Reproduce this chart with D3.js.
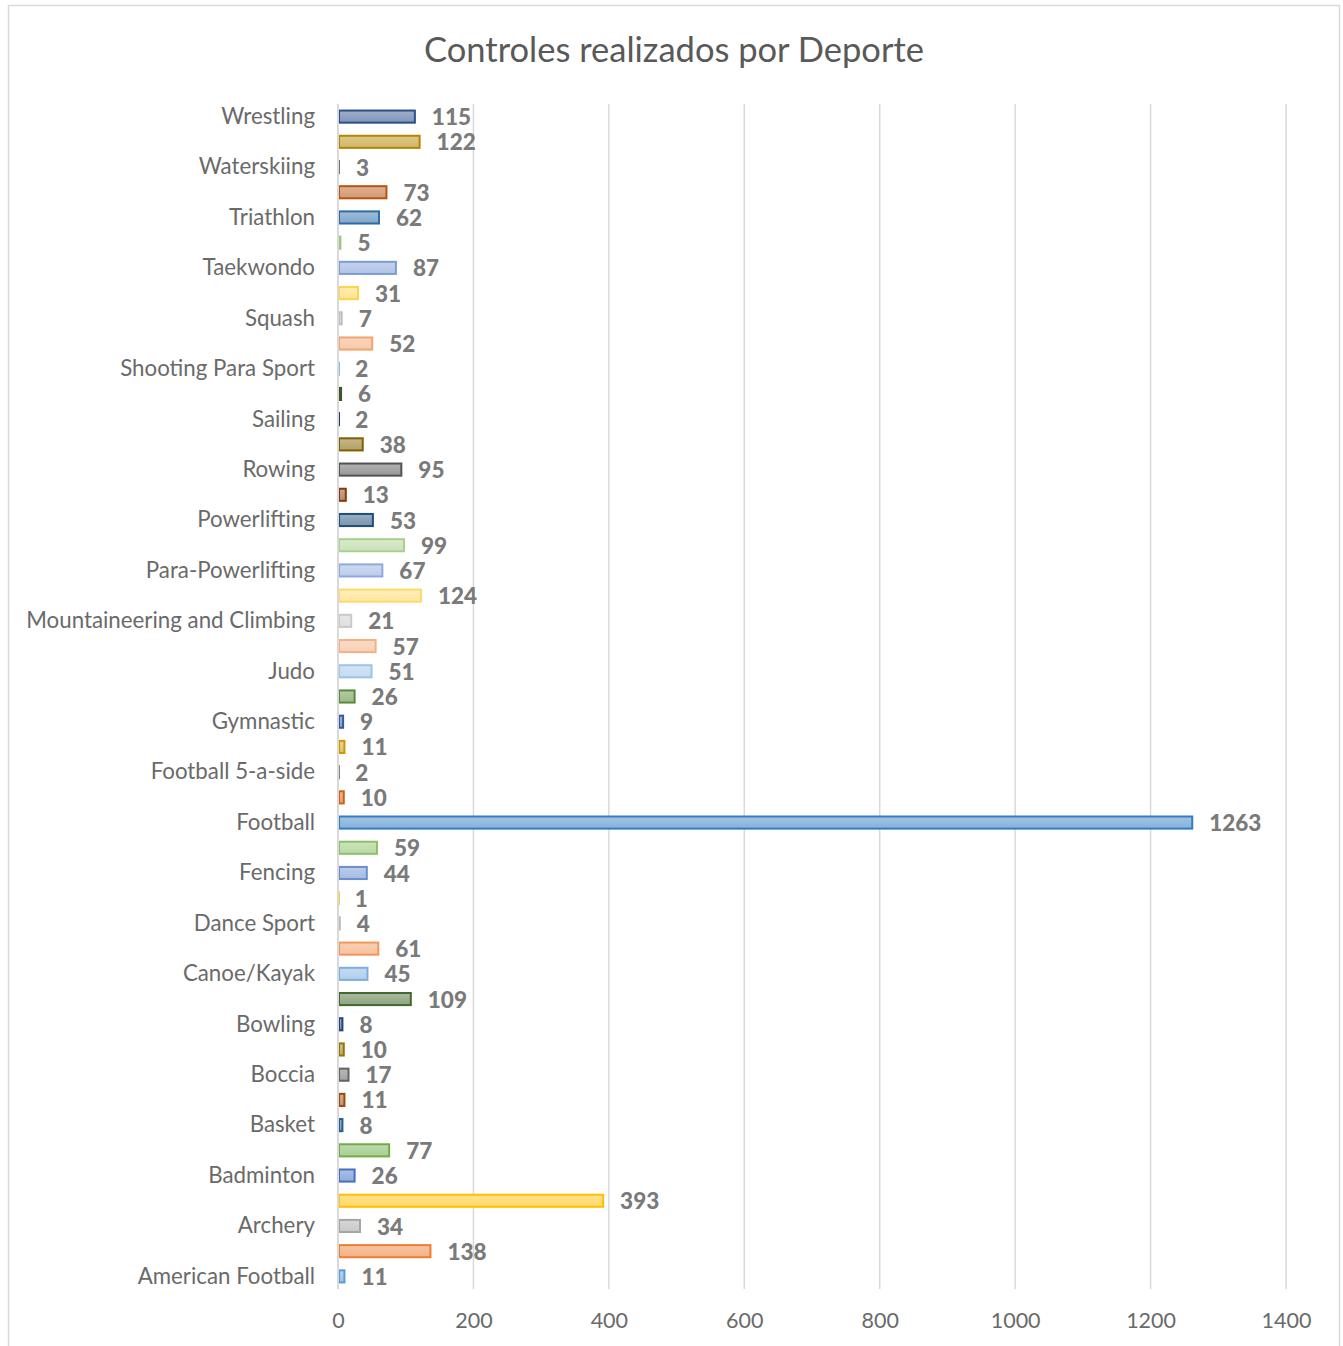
<!DOCTYPE html>
<html>
<head>
<meta charset="utf-8">
<script src="https://cdn.jsdelivr.net/npm/d3@7"></script>
<style>
  html, body { margin: 0; padding: 0; background: #ffffff; }
  svg { display: block; }
</style>
</head>
<body>
<svg id="chart" width="1343" height="1346"></svg>
<script>
// ---- Data (Excel category order: bottom to top) ----
const categories = [
  "American Football", "Aquatics", "Archery", "Athletics", "Badminton", "Baseball",
  "Basket", "Billiards", "Boccia", "Boules", "Bowling", "Boxing",
  "Canoe/Kayak", "Cycling", "Dance Sport", "Equestrian", "Fencing", "Field Hockey",
  "Football", "Futsal", "Football 5-a-side", "Golf", "Gymnastic", "Handball",
  "Judo", "Karate", "Mountaineering and Climbing", "Padel", "Para-Powerlifting", "Pelota",
  "Powerlifting", "Roller Sports", "Rowing", "Rugby", "Sailing", "Shooting",
  "Shooting Para Sport", "Skiing", "Squash", "Surfing", "Taekwondo", "Tennis",
  "Triathlon", "Volleyball", "Waterskiing", "Weightlifting", "Wrestling"
];
const values = [
  11, 138, 34, 393, 26, 77,
  8, 11, 17, 10, 8, 109,
  45, 61, 4, 1, 44, 59,
  1263, 10, 2, 11, 9, 26,
  51, 57, 21, 124, 67, 99,
  53, 13, 95, 38, 2, 6,
  2, 52, 7, 31, 87, 5,
  62, 73, 3, 122, 115
];
const xTicks = [0, 200, 400, 600, 800, 1000, 1200, 1400];
const title = "Controles realizados por Deporte";

// ---- Theme colours (Office palette with Excel's point variations) ----
const accents = ["#5B9BD5", "#ED7D31", "#A5A5A5", "#FFC000", "#4472C4", "#70AD47"];
const variations = [[1, 0], [0.6, 0], [0.8, 0.2], [0.8, 0], [0.6, 0.4], [0.5, 0], [0.7, 0.3], [0.7, 0]];
function pointColor(i) {
  const base = d3.hsl(accents[i % 6]);
  const v = variations[Math.floor(i / 6) % variations.length];
  base.l = base.l * v[0] + v[1];
  return base.formatHex();
}

const data = categories.map((c, i) => ({ cat: c, value: values[i], idx: i }));

const svg = d3.select("#chart");
const plotTop = 104, plotBottom = 1289;
const FONT = "Lato, 'Open Sans', sans-serif";

// chart border
svg.append("rect")
  .attr("x", 8.5).attr("y", 5.5)
  .attr("width", 1331).attr("height", 1350)
  .attr("fill", "#ffffff")
  .attr("stroke", "#D9D9D9").attr("stroke-width", 1.5);

// title
svg.append("text")
  .attr("x", 674).attr("y", 62)
  .attr("text-anchor", "middle")
  .attr("font-family", FONT)
  .attr("font-size", 34.5)
  .attr("fill", "#595959")
  .text(title);

const x = d3.scaleLinear().domain([0, 1400]).range([338, 1286]);
const y = d3.scaleBand()
  .domain(categories.slice().reverse())
  .range([plotTop, plotBottom])
  .paddingInner(0.44)
  .paddingOuter(0.22);

// gridlines
svg.append("g")
  .selectAll("line")
  .data(xTicks.filter(t => t > 0))
  .join("line")
  .attr("x1", d => x(d)).attr("x2", d => x(d))
  .attr("y1", plotTop).attr("y2", plotBottom)
  .attr("stroke", "#D9D9D9").attr("stroke-width", 1.5);

// gradients
const defs = svg.append("defs");
data.forEach(d => {
  const c = d3.color(pointColor(d.idx));
  const mix = (t) => d3.interpolateRgb(c, "#ffffff")(t);
  const g = defs.append("linearGradient")
    .attr("id", "grad" + d.idx)
    .attr("x1", 0).attr("y1", 0).attr("x2", 0).attr("y2", 1);
  g.append("stop").attr("offset", "0%").attr("stop-color", mix(0.55));
  g.append("stop").attr("offset", "100%").attr("stop-color", mix(0.4));
});

// bars
svg.append("g")
  .selectAll("rect")
  .data(data)
  .join("rect")
  .attr("x", x(0) + 1)
  .attr("y", d => y(d.cat) + 1)
  .attr("width", d => Math.max(0.01, x(d.value) - x(0) - 2))
  .attr("height", y.bandwidth() - 2)
  .attr("fill", d => `url(#grad${d.idx})`)
  .attr("stroke", d => pointColor(d.idx))
  .attr("stroke-width", 2);

// vertical axis line at 0
svg.append("line")
  .attr("x1", x(0)).attr("x2", x(0))
  .attr("y1", plotTop).attr("y2", plotBottom)
  .attr("stroke", "#D9D9D9").attr("stroke-width", 2);

// category axis (every other label, as Excel shows)
const yAxis = d3.axisLeft(y)
  .tickValues(categories.filter((c, i) => i % 2 === 0))
  .tickSize(0)
  .tickPadding(23);
const gy = svg.append("g").attr("transform", `translate(${x(0)},0)`).call(yAxis);
gy.select(".domain").remove();
gy.selectAll("text")
  .attr("font-family", FONT)
  .attr("font-size", 22.3)
  .attr("fill", "#6A6A6A")
  .attr("dy", "0.33em");

// value axis
const xAxis = d3.axisBottom(x).tickValues(xTicks).tickFormat(d3.format("d")).tickSize(0).tickPadding(0);
const gx = svg.append("g").attr("transform", `translate(0,${plotBottom})`).call(xAxis);
gx.select(".domain").remove();
gx.selectAll("text")
  .attr("font-family", FONT)
  .attr("font-size", 21.5)
  .attr("fill", "#6A6A6A")
  .attr("y", 39)
  .attr("dy", 0);

// data labels
svg.append("g")
  .selectAll("text")
  .data(data)
  .join("text")
  .attr("x", d => x(d.value) + 16)
  .attr("y", d => y(d.cat) + y.bandwidth() / 2)
  .attr("dy", "0.38em")
  .attr("font-family", FONT)
  .attr("font-weight", 900)
  .attr("font-size", 22.5)
  .attr("fill", "#7A7A7A")
  .text(d => d.value);
</script>
</body>
</html>
